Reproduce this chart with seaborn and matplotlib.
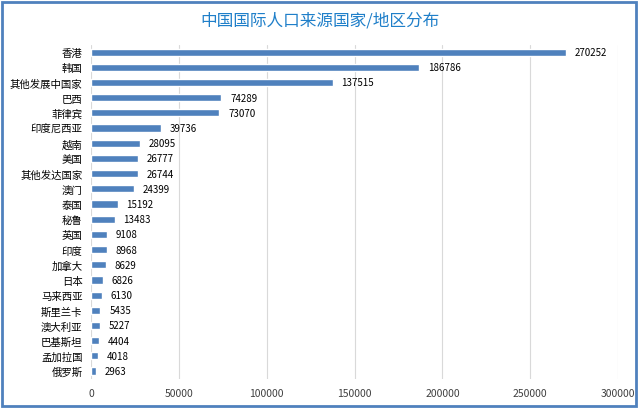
import matplotlib
matplotlib.use("Agg")
import matplotlib.pyplot as plt
import seaborn as sns
import pandas as pd
from matplotlib.patches import Rectangle

categories = ["香港", "韩国", "其他发展中国家", "巴西", "菲律宾", "印度尼西亚", "越南", "美国",
              "其他发达国家", "澳门", "泰国", "秘鲁", "英国", "印度", "加拿大", "日本",
              "马来西亚", "斯里兰卡", "澳大利亚", "巴基斯坦", "孟加拉国", "俄罗斯"]
values = [270252, 186786, 137515, 74289, 73070, 39736, 28095, 26777, 26744, 24399, 15192,
          13483, 9108, 8968, 8629, 6826, 6130, 5435, 5227, 4404, 4018, 2963]
xticks = [0, 50000, 100000, 150000, 200000, 250000, 300000]
title = "中国国际人口来源国家/地区分布"

sns.set_theme(style="white")
plt.rcParams['font.family'] = ['Noto Sans CJK SC', 'DejaVu Sans']

df = pd.DataFrame({"cat": categories, "val": values})

fig = plt.figure(figsize=(6.4, 4.1), dpi=100)
ax = fig.add_axes([0.142, 0.074, 0.824, 0.815])
sns.barplot(data=df, y="cat", x="val", orient="h", color="#4f81bd", saturation=1,
            width=0.47, ax=ax)
ax.set_xlim(0, 300000)
ax.set_xticks(xticks)
ax.set_xticklabels([str(t) for t in xticks], fontsize=7.5, color="#404040")
ax.tick_params(axis="y", labelsize=7.5, colors="#000000", length=0, pad=6)
ax.tick_params(axis="x", length=0, pad=7)
ax.set_xlabel("")
ax.set_ylabel("")
for s in ax.spines.values():
    s.set_visible(False)
ax.grid(axis="x", color="#d9d9d9", linewidth=0.8)
ax.set_axisbelow(True)
for i, v in enumerate(values):
    ax.text(v + 5000, i, str(v), va="center", ha="left", fontsize=7, color="#000000")
fig.text(0.5, 0.948, title, ha="center", va="center", fontsize=12, color="#1f7fc9")
fig.patches.append(Rectangle((0.003, 0.008), 0.991, 0.985, transform=fig.transFigure,
                             fill=False, edgecolor="#4f81bd", linewidth=2))
fig.savefig("out.png", dpi=100)
